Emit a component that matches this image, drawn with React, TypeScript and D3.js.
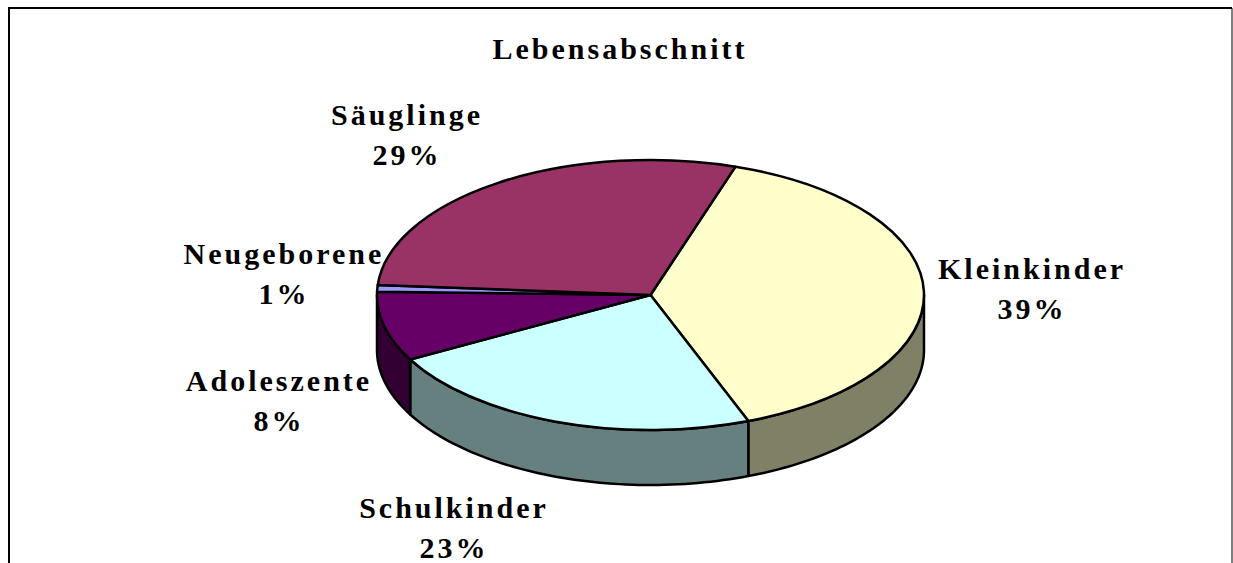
import React from "react";
import * as d3 from "d3";

const title = "Lebensabschnitt";
const categories = ["Kleinkinder", "Schulkinder", "Adoleszente", "Neugeborene", "Säuglinge"];
const values = [39.15, 22.9, 8.3, 0.8, 28.85];
const percentLabels = ["39%", "23%", "8%", "1%", "29%"];
const topColors = ["#FFFFCC", "#CCFFFF", "#660066", "#9999FF", "#993366"];
const sideColors = ["#808066", "#668080", "#330033", "#4D4D80", "#4D1A33"];
const labelCenters: [number, number][] = [[1032, 279], [454, 518], [279, 391], [284, 264], [407, 125]];

const W = 1233, H = 563;
const cx = 650.5, cy = 295, rx = 273.5, ry = 135, depth = 55;
const start = (18.1 * Math.PI) / 180;

const pt = (a: number, dy = 0): [number, number] => [cx + rx * Math.sin(a), cy - ry * Math.cos(a) + dy];
const lineGen = d3.line<[number, number]>();

export default function App() {
  const arcs = d3.pie<number>().sort(null).startAngle(start).endAngle(start + 2 * Math.PI)(values);
  const arcGen = d3.arc<d3.PieArcDatum<number>>().innerRadius(0).outerRadius(rx);
  const textStyle: React.CSSProperties = { fontFamily: "'Liberation Serif', serif", fontWeight: 700, fontSize: 30, letterSpacing: 3 };
  return (
    <svg width={W} height={H} style={{ position: "absolute", left: 0, top: 0, background: "#fff" }}>
      <path d={`M1232,8 V${H}`} fill="none" stroke="#808080" strokeWidth={2} />
      <path d={`M9,${H} V8 H1232`} fill="none" stroke="#000" strokeWidth={2} />
      {arcs.map((d, i) => {
        const a0 = Math.max(d.startAngle, Math.PI / 2);
        const a1 = Math.min(d.endAngle, (3 * Math.PI) / 2);
        if (a1 <= a0) return null;
        const top = d3.range(0, 61).map((k) => pt(a0 + ((a1 - a0) * k) / 60));
        const bottom = top.slice().reverse().map(([x, y]) => [x, y + depth] as [number, number]);
        return <path key={i} d={lineGen([...top, ...bottom]) + "Z"} fill={sideColors[i]} stroke="#000" strokeWidth={2.5} strokeLinejoin="round" />;
      })}
      <g transform={`translate(${cx},${cy}) scale(1,${ry / rx})`}>
        {arcs.map((d, i) => (
          <path key={i} d={arcGen(d) ?? ""} fill={topColors[i]} stroke="#000" strokeWidth={2.5} strokeLinejoin="round" vectorEffect="non-scaling-stroke" />
        ))}
      </g>
      <text x={620} y={59} textAnchor="middle" style={textStyle}>{title}</text>
      {categories.map((c, i) => (
        <g key={c} style={textStyle} textAnchor="middle">
          <text x={labelCenters[i][0]} y={labelCenters[i][1]}>{c}</text>
          <text x={labelCenters[i][0]} y={labelCenters[i][1] + 40}>{percentLabels[i]}</text>
        </g>
      ))}
    </svg>
  );
}
